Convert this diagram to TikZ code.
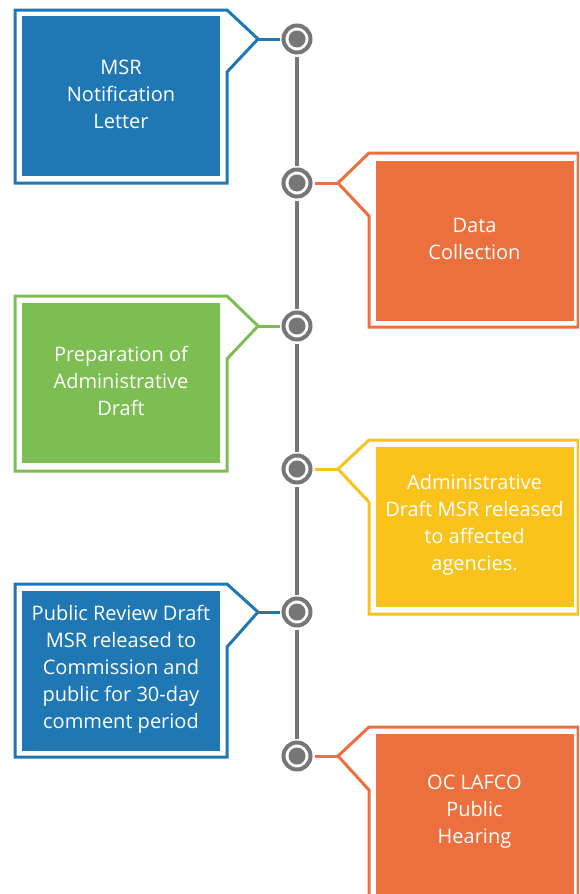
\documentclass[tikz,border=0pt]{standalone}
\usepackage{fontspec}
\setmainfont{Open Sans}
\definecolor{tlgray}{RGB}{118,118,118}
\definecolor{tlblue}{RGB}{31,120,180}
\definecolor{tlorange}{RGB}{236,111,62}
\definecolor{tlgreen}{RGB}{125,190,83}
\definecolor{tlyellow}{RGB}{249,195,28}
\begin{document}
\begin{tikzpicture}[x=1pt,y=-1pt,
  ring/.style={circle, draw=tlgray, line width=4pt, fill=white, minimum size=27pt, inner sep=0pt,
    path picture={\fill[tlgray] (path picture bounding box.center) circle (8.5pt);}},
  vline/.style={draw=tlgray, line width=4pt, shorten <=2pt, shorten >=2pt},
  conn/.style={line width=3pt, shorten <=2pt},
  frame/.style={line width=3pt, line join=miter},
  panel/.style={minimum width=198pt, minimum height=160pt, inner sep=0pt},
  caption/.style={text=white, align=center, yshift=2pt, inner sep=0pt,
    font=\fontsize{20}{27}\selectfont},
]
\clip (0,0) rectangle (579,894);
\fill[white] (0,0) rectangle (579,894);

% timeline markers
\node[ring] (c1) at (297,39) {};
\node[ring] (c2) at (297,183) {};
\node[ring] (c3) at (297,326) {};
\node[ring] (c4) at (297,469) {};
\node[ring] (c5) at (297,612) {};
\node[ring] (c6) at (297,756) {};

% apex coordinates
\coordinate (a1) at (258,39);
\coordinate (a2) at (338,183);
\coordinate (a3) at (258,326);
\coordinate (a4) at (338,469);
\coordinate (a5) at (258,612);
\coordinate (a6) at (338,756);

% vertical line
\draw[vline] (c1) -- (c2);
\draw[vline] (c2) -- (c3);
\draw[vline] (c3) -- (c4);
\draw[vline] (c4) -- (c5);
\draw[vline] (c5) -- (c6);

% connectors
\draw[conn, draw=tlblue] (c1) -- (a1);
\draw[conn, draw=tlorange] (c2) -- (a2);
\draw[conn, draw=tlgreen] (c3) -- (a3);
\draw[conn, draw=tlyellow] (c4) -- (a4);
\draw[conn, draw=tlblue] (c5) -- (a5);
\draw[conn, draw=tlorange] (c6) -- (a6);

% frames
\draw[frame, draw=tlblue] (a1) -- (227,10) -- (15,10) -- (15,183) -- (227,183) -- (227,72) -- cycle;
\draw[frame, draw=tlorange] (a2) -- (369,153) -- (578,153) -- (578,327) -- (369,327) -- (369,216) -- cycle;
\draw[frame, draw=tlgreen] (a3) -- (227,296) -- (15,296) -- (15,471) -- (227,471) -- (227,359) -- cycle;
\draw[frame, draw=tlyellow] (a4) -- (369,440) -- (578,440) -- (578,614) -- (369,614) -- (369,502) -- cycle;
\draw[frame, draw=tlblue] (a5) -- (227,584) -- (15,584) -- (15,757) -- (227,757) -- (227,647) -- cycle;
\draw[frame, draw=tlorange] (a6) -- (369,727) -- (578,727) -- (578,901) -- (369,901) -- (369,790) -- cycle;

% panels
\node[panel, fill=tlblue] (p1) at (121,96) {};
\node[panel, fill=tlorange] (p2) at (474.5,240.5) {};
\node[panel, fill=tlgreen] (p3) at (121,383) {};
\node[panel, fill=tlyellow] (p4) at (474.5,527) {};
\node[panel, fill=tlblue] (p5) at (121,671) {};
\node[panel, fill=tlorange] (p6) at (474.5,814) {};

% captions
\node[caption] (t1) at (p1.center) {MSR\\Notification\\Letter};
\node[caption] (t2) at (p2.center) {Data\\Collection};
\node[caption] (t3) at (p3.center) {Preparation of\\Administrative\\Draft};
\node[caption] (t4) at (p4.center) {Administrative\\Draft MSR released\\to affected\\agencies.};
\node[caption] (t5) at (p5.center) {Public Review Draft\\MSR released to\\Commission and\\public for 30-day\\comment period};
\node[caption] (t6) at (p6.center) {OC LAFCO\\Public\\Hearing};
\end{tikzpicture}
\end{document}
